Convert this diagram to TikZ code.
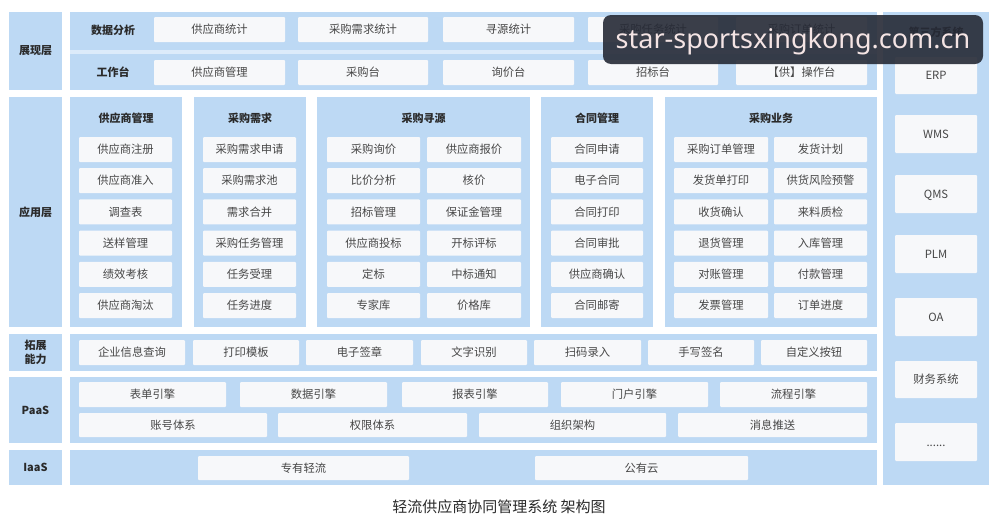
\documentclass[tikz,border=0pt]{standalone}
\usepackage{fontspec}
\setmainfont{Noto Sans CJK SC}
\newfontfamily\wmfont{Noto Sans}
\definecolor{bandblue}{HTML}{BDD9F4}
\definecolor{sepblue}{HTML}{DCEBFA}
\definecolor{boxwhite}{HTML}{F7F8FA}
\definecolor{txt}{HTML}{474747}
\definecolor{ttl}{HTML}{2A2A2A}
\definecolor{wmbg}{HTML}{262A36}
\definecolor{wmtxt}{HTML}{F4E4E4}
\tikzset{
  band/.style={fill=bandblue,draw=none,inner sep=0pt},
  lbl/.style={fill=bandblue,draw=none,inner sep=0pt,text=ttl,font=\fontsize{11}{14}\selectfont\bfseries,align=center},
  wbox/.style={fill=boxwhite,draw=none,inner sep=0pt,rounded corners=1pt,text=txt,font=\fontsize{11.3}{12}\selectfont,text height=9.4pt,text depth=0.9pt},
  gtitle/.style={text=ttl,font=\fontsize{11}{13}\selectfont\bfseries,inner sep=0pt,text height=9.2pt,text depth=0.9pt},
}
\newcommand\bx[6]{\node[wbox,minimum width={(#4)-(#2)},minimum height={(#5)-(#3)}] (#1) at ({((#2)+(#4))/2},{((#3)+(#5))/2}) {#6};}
\newcommand\bd[5]{\node[band,minimum width={(#4)-(#2)},minimum height={(#5)-(#3)}] (#1) at ({((#2)+(#4))/2},{((#3)+(#5))/2}) {};}
\newcommand\lb[6]{\node[lbl,minimum width={(#4)-(#2)},minimum height={(#5)-(#3)}] (#1) at ({((#2)+(#4))/2},{((#3)+(#5))/2}) {#6};}
\begin{document}
\begin{tikzpicture}[x=1pt,y=-1pt]
\useasboundingbox (0,0) rectangle (998,520);
\fill[white] (0,0) rectangle (998,520);

% ---------- 展现层 ----------
\lb{L1}{9}{12}{62}{90}{展现层}
\bd{B1}{70}{12}{877}{90}
\fill[sepblue] (70,50) rectangle (877,54);
\node[gtitle] (r1) at (113,30) {数据分析};
\node[gtitle] (r2) at (113,72) {工作台};
\bx{s1}{154}{17}{285}{42}{供应商统计}
\bx{s2}{298}{17}{428}{42}{采购需求统计}
\bx{s3}{443}{17}{574}{42}{寻源统计}
\bx{s4}{588}{17}{718}{42}{采购任务统计}
\bx{s5}{736}{17}{867}{42}{采购订单统计}
\bx{w1}{154}{60}{285}{85}{供应商管理}
\bx{w2}{298}{60}{428}{85}{采购台}
\bx{w3}{443}{60}{574}{85}{询价台}
\bx{w4}{588}{60}{718}{85}{招标台}
\bx{w5}{736}{60}{867}{85}{【供】操作台}

% ---------- 应用层 ----------
\lb{L2}{9}{97}{62}{327}{应用层}
\bd{G1}{70}{97}{182}{327}
\bd{G2}{194}{97}{306}{327}
\bd{G3}{317}{97}{530}{327}
\bd{G4}{541}{97}{653}{327}
\bd{G5}{665}{97}{877}{327}
\node[gtitle] (t1) at (126,118) {供应商管理};
\node[gtitle] (t2) at (250,118) {采购需求};
\node[gtitle] (t3) at (423.5,118) {采购寻源};
\node[gtitle] (t4) at (597,118) {合同管理};
\node[gtitle] (t5) at (771,118) {采购业务};
\foreach \t [count=\i from 0] in {供应商注册,供应商准入,调查表,送样管理,绩效考核,供应商淘汰}{
  \pgfmathsetmacro\yy{137+31.2*\i}\bx{a\i}{79}{\yy}{172}{\yy+25}{\t}}
\foreach \t [count=\i from 0] in {采购需求申请,采购需求池,需求合并,采购任务管理,任务受理,任务进度}{
  \pgfmathsetmacro\yy{137+31.2*\i}\bx{b\i}{203}{\yy}{296}{\yy+25}{\t}}
\foreach \t [count=\i from 0] in {采购询价,比价分析,招标管理,供应商投标,定标,专家库}{
  \pgfmathsetmacro\yy{137+31.2*\i}\bx{cl\i}{327}{\yy}{420}{\yy+25}{\t}}
\foreach \t [count=\i from 0] in {供应商报价,核价,保证金管理,开标评标,中标通知,价格库}{
  \pgfmathsetmacro\yy{137+31.2*\i}\bx{cr\i}{427}{\yy}{521}{\yy+25}{\t}}
\foreach \t [count=\i from 0] in {合同申请,电子合同,合同打印,合同审批,供应商确认,合同邮寄}{
  \pgfmathsetmacro\yy{137+31.2*\i}\bx{d\i}{551}{\yy}{643}{\yy+25}{\t}}
\foreach \t [count=\i from 0] in {采购订单管理,发货单打印,收货确认,退货管理,对账管理,发票管理}{
  \pgfmathsetmacro\yy{137+31.2*\i}\bx{el\i}{674}{\yy}{768}{\yy+25}{\t}}
\foreach \t [count=\i from 0] in {发货计划,供货风险预警,来料质检,入库管理,付款管理,订单进度}{
  \pgfmathsetmacro\yy{137+31.2*\i}\bx{er\i}{774}{\yy}{867}{\yy+25}{\t}}

% ---------- 拓展能力 ----------
\lb{L3}{9}{334}{62}{371}{拓展\\能力}
\bd{B3}{70}{334}{877}{371}
\bx{x1}{79}{340}{185}{365}{企业信息查询}
\bx{x2}{193}{340}{299}{365}{打印模板}
\bx{x3}{306}{340}{413}{365}{电子签章}
\bx{x4}{421}{340}{527}{365}{文字识别}
\bx{x5}{534}{340}{641}{365}{扫码录入}
\bx{x6}{648}{340}{754}{365}{手写签名}
\bx{x7}{761}{340}{867}{365}{自定义按钮}

% ---------- PaaS ----------
\lb{L4}{9}{377}{62}{443}{PaaS}
\bd{B4}{70}{377}{877}{443}
\bx{p1}{79}{382}{226}{407}{表单引擎}
\bx{p2}{240}{382}{387}{407}{数据引擎}
\bx{p3}{402}{382}{548}{407}{报表引擎}
\bx{p4}{561}{382}{708}{407}{门户引擎}
\bx{p5}{720}{382}{867}{407}{流程引擎}
\bx{q1}{79}{413}{267}{437}{账号体系}
\bx{q2}{278}{413}{467}{437}{权限体系}
\bx{q3}{479}{413}{666}{437}{组织架构}
\bx{q4}{678}{413}{867}{437}{消息推送}

% ---------- IaaS ----------
\lb{L5}{9}{450}{62}{485}{IaaS}
\bd{B5}{70}{450}{877}{485}
\bx{i1}{198}{456}{409}{480}{专有轻流}
\bx{i2}{535}{456}{748}{480}{公有云}

% ---------- 第三方系统 ----------
\bd{B6}{883}{12}{989}{485}
\node[gtitle] (t6) at (936,32) {第三方系统};
\bx{y1}{895}{57}{977}{94}{ERP}
\bx{y2}{895}{115}{977}{153}{WMS}
\bx{y3}{895}{175}{977}{213}{QMS}
\bx{y4}{895}{235}{977}{273}{PLM}
\bx{y5}{895}{298}{977}{336}{OA}
\bx{y6}{895}{361}{977}{398}{财务系统}
\bx{y7}{895}{423}{977}{461}{......}

% ---------- caption ----------
\node[text=ttl,font=\fontsize{15}{17}\selectfont,inner sep=0pt,text height=12.6pt,text depth=1.2pt] (cap) at (499,507) {轻流供应商协同管理系统 架构图};

% ---------- watermark overlay ----------
\node[fill=wmbg,fill opacity=0.9,text opacity=1,rounded corners=8pt,inner sep=0pt,
      minimum width=380,minimum height=49] (wm) at (793,39.5) {};
\node[text=wmtxt,font=\wmfont\fontsize{27}{30}\selectfont,inner sep=0pt] (wmt) at (793,41) {star-sportsxingkong.com.cn};
\end{tikzpicture}
\end{document}
